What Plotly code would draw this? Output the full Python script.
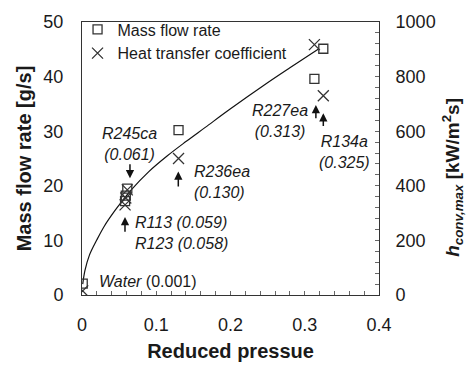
import plotly.graph_objects as go

# Reduced pressure of each working fluid (x) and measured quantities
fluids = ["Water", "R123", "R113", "R245ca", "R236ea", "R227ea", "R134a"]
reduced_pressure = [0.001, 0.058, 0.059, 0.061, 0.130, 0.313, 0.325]
mass_flow_rate = [2.1, 17.2, 18.2, 19.5, 30.2, 39.6, 45.1]          # g/s
heat_transfer_coeff = [15, 330, 355, 385, 500, 917, 730]            # kW/m2s

# Trend curve through the mass-flow data
trend_x = [0.001, 0.004, 0.01, 0.02, 0.03, 0.044, 0.053, 0.066, 0.09,
           0.115, 0.14, 0.166, 0.2, 0.246, 0.28, 0.318]
trend_y = [2.0, 4.5, 7.3, 10.1, 12.6, 15.4, 17.0, 19.2, 22.6,
           25.5, 28.1, 30.7, 34.1, 38.5, 41.6, 45.0]

x_ticks = [0, 0.1, 0.2, 0.3, 0.4]
x_tick_text = ["0", "0.1", "0.2", "0.3", "0.4"]

FONT = "Arial, Liberation Sans, sans-serif"
INK = "#1a1a1a"
MARK = "#333333"

fig = go.Figure()

fig.add_trace(go.Scatter(
    x=trend_x, y=trend_y, mode="lines",
    line=dict(color="#111111", width=1.2, shape="spline", smoothing=1),
    showlegend=False, hoverinfo="skip"))

fig.add_trace(go.Scatter(
    x=reduced_pressure, y=mass_flow_rate, mode="markers", name="Mass flow rate",
    marker=dict(symbol="square-open", size=9, color=MARK, line=dict(width=1.3, color=MARK))))

fig.add_trace(go.Scatter(
    x=reduced_pressure, y=heat_transfer_coeff, mode="markers", name="Heat transfer coefficient",
    yaxis="y2",
    marker=dict(symbol="x-thin-open", size=11, color=MARK, line=dict(width=1.3, color=MARK))))

# Fluid labels (position in data units of the left axis)
labels = [
    dict(text="<i>R245ca</i><br><i>(0.061)</i>", x=0.0633, y=27.7, xanchor="center", align="center"),
    dict(text="<i>R236ea</i><br><i>(0.130)</i>", x=0.148, y=20.7, xanchor="left", align="left"),
    dict(text="<i>R227ea</i><br><i>(0.313)</i>", x=0.2667, y=31.8, xanchor="center", align="center"),
    dict(text="<i>R134a</i><br><i>(0.325)</i>", x=0.353, y=26.2, xanchor="center", align="center"),
    dict(text="<i>R113 (0.059)</i><br><i>R123 (0.058)</i>", x=0.0691, y=11.3, xanchor="left", align="left"),
    dict(text="<i>Water</i> (0.001)", x=0.0198, y=2.4, xanchor="left", align="left"),
]
annotations = []
for lab in labels:
    annotations.append(dict(
        text=lab["text"], x=lab["x"], y=lab["y"], xref="x", yref="y",
        xanchor=lab["xanchor"], yanchor="middle", align=lab["align"], showarrow=False,
        font=dict(family=FONT, size=16, color=INK)))

# Pointer arrows: (x, head y, tail y)
arrows = [
    (0.0579, 14.3, 11.3),
    (0.0646, 21.4, 24.2),
    (0.1297, 22.6, 19.6),
    (0.3150, 34.8, 32.1),
    (0.3250, 33.3, 30.7),
]
for ax_x, head_y, tail_y in arrows:
    annotations.append(dict(
        x=ax_x, y=head_y, ax=ax_x, ay=tail_y, xref="x", yref="y", axref="x", ayref="y",
        text="", showarrow=True, arrowhead=2, arrowsize=1.1, arrowwidth=1.5,
        arrowcolor="#111111", standoff=0, startstandoff=0))

# Right-hand axis title
annotations.append(dict(
    text="<b><i>h</i><sub><i>conv,max</i></sub> [kW/m<sup>2</sup>s]</b>",
    xref="paper", yref="paper", x=1.245, y=0.432, textangle=-90, showarrow=False,
    xanchor="center", yanchor="middle", font=dict(family=FONT, size=19, color=INK)))

fig.update_layout(
    width=466, height=366,
    margin=dict(l=82, r=87, t=15, b=71),
    paper_bgcolor="white", plot_bgcolor="white",
    font=dict(family=FONT, color=INK),
    showlegend=True,
    legend=dict(x=-0.015, y=1.035, xanchor="left", yanchor="top",
                bgcolor="rgba(0,0,0,0)", font=dict(family=FONT, size=16, color=INK),
                tracegroupgap=0, itemwidth=30),
    xaxis=dict(
        range=[0, 0.4], tickvals=x_ticks, ticktext=x_tick_text, automargin=False,
        showgrid=False, zeroline=False, showline=True, linecolor="#333333", linewidth=1,
        mirror=True, ticks="inside", ticklen=4, tickcolor="#666666",
        minor=dict(dtick=0.02, ticks="inside", ticklen=4, tickcolor="#666666"),
        tickfont=dict(family=FONT, size=18, color=INK), ticklabelstandoff=13,
        title=dict(text="<b>Reduced pressue</b>", font=dict(family=FONT, size=20, color=INK),
                   standoff=10)),
    yaxis=dict(
        range=[0, 50], dtick=10, showgrid=False, zeroline=False, automargin=False,
        showline=True, linecolor="#333333", linewidth=1, ticks="",
        tickfont=dict(family=FONT, size=18, color=INK), ticklabelstandoff=14,
        title=dict(text="<b>Mass flow rate [g/s]</b>", font=dict(family=FONT, size=20, color=INK),
                   standoff=6)),
    yaxis2=dict(
        range=[0, 1000], dtick=200, overlaying="y", side="right", showgrid=False,
        zeroline=False, showline=True, linecolor="#333333", linewidth=1, automargin=False,
        ticks="inside", ticklen=4, tickcolor="#666666",
        minor=dict(dtick=40, ticks="inside", ticklen=4, tickcolor="#666666"),
        tickfont=dict(family=FONT, size=18, color=INK), ticklabelstandoff=12),
    annotations=annotations,
)

fig.write_html("out.html")
